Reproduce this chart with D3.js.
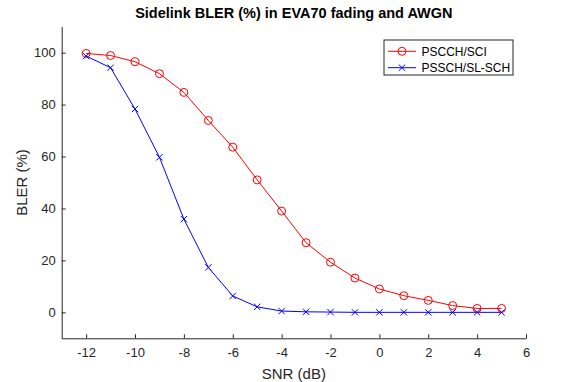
<!DOCTYPE html>
<html>
<head>
<meta charset="utf-8">
<script src="https://cdn.jsdelivr.net/npm/d3@7"></script>
<style>
  body { margin: 0; background: #fff; }
  svg { display: block; font-family: "Liberation Sans", Arial, sans-serif; }
</style>
</head>
<body>
<svg id="chart"></svg>
<script>
// SNR values (dB)
const snr = [-12, -11, -10, -9, -8, -7, -6, -5, -4, -3, -2, -1, 0, 1, 2, 3, 4, 5];
// BLER (%)
const pscch = [99.7, 98.9, 96.5, 91.9, 84.7, 73.9, 63.6, 51.0, 39.0, 26.8, 19.3, 13.2, 9.0, 6.4, 4.6, 2.6, 1.5, 1.5];
const pssch = [98.7, 94.2, 78.3, 59.7, 35.9, 17.3, 6.3, 2.1, 0.5, 0.2, 0.1, 0, 0, 0, 0, 0, 0, 0];
const xTicks = [-12, -10, -8, -6, -4, -2, 0, 2, 4, 6];
const yTicks = [0, 20, 40, 60, 80, 100];
const seriesNames = ['PSCCH/SCI', 'PSSCH/SL-SCH'];

const W = 562, H = 382;
const mL = 61.7, mR = 526, mT = 26.7, mB = 338.3;
const axCol = '#262626';

const svg = d3.select('#chart').attr('width', W).attr('height', H);

const x = d3.scaleLinear().domain([-13, 6]).range([mL, mR]);
const y = d3.scaleLinear().domain([-10, 110]).range([mB, mT]);

// axes, ticks pointing inward like matlab, plain hyphen minus
const xAxis = d3.axisBottom(x).tickValues(xTicks).tickFormat(d => String(d))
  .tickSizeInner(-4).tickSizeOuter(0).tickPadding(9);
const yAxis = d3.axisLeft(y).tickValues(yTicks).tickFormat(d => String(d))
  .tickSizeInner(-4).tickSizeOuter(0).tickPadding(6);

const gx = svg.append('g').attr('transform', `translate(0,${mB})`).call(xAxis);
const gy = svg.append('g').attr('transform', `translate(${mL},0)`).call(yAxis);
[gx, gy].forEach(g => {
  g.select('.domain').attr('stroke', axCol).attr('stroke-width', 1);
  g.selectAll('.tick line').attr('stroke', axCol);
  g.selectAll('.tick text').attr('fill', axCol).style('font-size', '13px');
});

// series
const line = d3.line().x((d, i) => x(snr[i])).y(d => y(d));

svg.append('path').datum(pscch).attr('d', line)
  .attr('fill', 'none').attr('stroke', '#ff0000').attr('stroke-width', 1);
svg.append('path').datum(pssch).attr('d', line)
  .attr('fill', 'none').attr('stroke', '#0000ff').attr('stroke-width', 1);

svg.append('g').selectAll('circle').data(pscch).join('circle')
  .attr('cx', (d, i) => x(snr[i])).attr('cy', d => y(d)).attr('r', 4)
  .attr('fill', 'none').attr('stroke', '#ff0000').attr('stroke-width', 1);

const cross = d3.symbol().type(d3.symbolTimes).size(28);
svg.append('g').selectAll('path').data(pssch).join('path')
  .attr('d', cross)
  .attr('transform', (d, i) => `translate(${x(snr[i])},${y(d)})`)
  .attr('fill', 'none').attr('stroke', '#0000ff').attr('stroke-width', 1);

// title + labels
svg.append('text').attr('x', (mL + mR) / 2).attr('y', 18)
  .attr('text-anchor', 'middle').style('font-size', '14.5px').style('font-weight', 'bold')
  .attr('fill', '#000').text('Sidelink BLER (%) in EVA70 fading and AWGN');

svg.append('text').attr('x', (mL + mR) / 2).attr('y', 379)
  .attr('text-anchor', 'middle').style('font-size', '15px').attr('fill', axCol).text('SNR (dB)');

svg.append('text').attr('transform', `translate(27,${(mT + mB) / 2}) rotate(-90)`)
  .attr('text-anchor', 'middle').style('font-size', '15px').attr('fill', axCol).text('BLER (%)');

// legend
const lg = svg.append('g');
lg.append('rect').attr('x', 384).attr('y', 40).attr('width', 129).attr('height', 35)
  .attr('fill', '#fff').attr('stroke', axCol).attr('stroke-width', 1);
const colors = ['#ff0000', '#0000ff'];
seriesNames.forEach((name, i) => {
  const ly = 51.3 + i * 16.4;
  lg.append('line').attr('x1', 388).attr('x2', 416).attr('y1', ly).attr('y2', ly)
    .attr('stroke', colors[i]).attr('stroke-width', 1);
  if (i === 0) {
    lg.append('circle').attr('cx', 402).attr('cy', ly).attr('r', 4)
      .attr('fill', 'none').attr('stroke', colors[i]);
  } else {
    lg.append('path').attr('d', cross).attr('transform', `translate(402,${ly})`)
      .attr('fill', 'none').attr('stroke', colors[i]);
  }
  lg.append('text').attr('x', 421.5).attr('y', ly).attr('dy', '0.35em')
    .style('font-size', '12px').attr('fill', '#000').text(name);
});
</script>
</body>
</html>
